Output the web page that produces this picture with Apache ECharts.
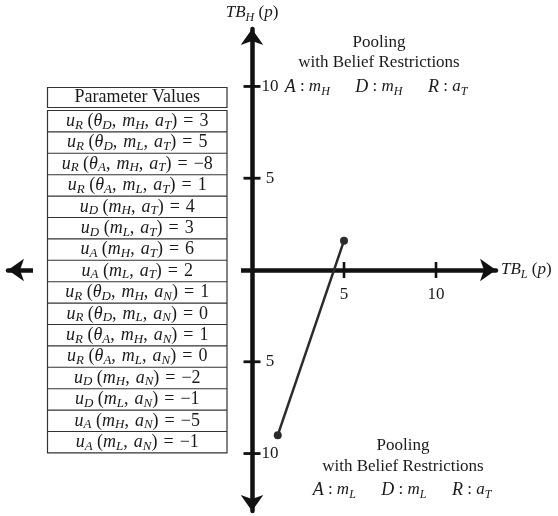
<!DOCTYPE html>
<html>
<head>
<meta charset="utf-8">
<script src="https://cdn.jsdelivr.net/npm/echarts@6/dist/echarts.min.js"></script>
<style>
  html, body { margin: 0; padding: 0; background: #fff; }
  #chart { width: 558px; height: 516px; }
</style>
</head>
<body>
<div id="chart"></div>
<script>
// Pooling segment in (TB_L, TB_H) space
const segmentTBL = [1.4, 5];
const segmentTBH = [-9, 1.6];

// Axis ticks and their labels
const xTickValues = [5, 10];
const xTickLabels = ['5', '10'];
const yTickValues = [10, 5, -5, -10];
const yTickLabels = ['10', '5', '5', '10'];

// Parameter table: u_player(θ_type, m_message, a_action) = value
const paramPlayers  = ['R', 'R', 'R', 'R', 'D', 'D', 'A', 'A', 'R', 'R', 'R', 'R', 'D', 'D', 'A', 'A'];
const paramTypes    = ['D', 'D', 'A', 'A', null, null, null, null, 'D', 'D', 'A', 'A', null, null, null, null];
const paramMessages = ['H', 'L', 'H', 'L', 'H', 'L', 'H', 'L', 'H', 'L', 'H', 'L', 'H', 'L', 'H', 'L'];
const paramActions  = ['T', 'T', 'T', 'T', 'T', 'T', 'T', 'T', 'N', 'N', 'N', 'N', 'N', 'N', 'N', 'N'];
const paramValues   = [3, 5, -8, 1, 4, 3, 6, 2, 1, 0, 1, 0, -2, -1, -5, -1];

// Region annotations: [A message, D message, R action]
const regionTitle = ['Pooling', 'with Belief Restrictions'];
const upperStrategy = ['H', 'H', 'T'];
const lowerStrategy = ['L', 'L', 'T'];

const FONT = '"Liberation Serif", "Times New Roman", serif';
const INK = '#1a1a1a';
const AXIS = '#111';

const rich = {
  r: { fontFamily: FONT, fontSize: 17, color: INK, lineHeight: 22 },
  i: { fontFamily: FONT, fontSize: 17, fontStyle: 'italic', color: INK, lineHeight: 22 },
  c: { fontFamily: FONT, fontSize: 18, fontStyle: 'italic', color: INK, lineHeight: 22 },
  s: { fontFamily: FONT, fontSize: 12, fontStyle: 'italic', color: INK, lineHeight: 14, verticalAlign: 'bottom' },
  // table cells
  R: { fontFamily: FONT, fontSize: 18, color: INK, lineHeight: 21 },
  I: { fontFamily: FONT, fontSize: 18, fontStyle: 'italic', color: INK, lineHeight: 21 },
  S: { fontFamily: FONT, fontSize: 13, fontStyle: 'italic', color: INK, lineHeight: 14, verticalAlign: 'bottom' }
};

function fmt(v) { return v < 0 ? '\u2212' + (-v) : String(v); }

function paramRow(k) {
  let s = '{I|u}{S|' + paramPlayers[k] + '}{R| (}';
  if (paramTypes[k]) s += '{I|\u03b8}{S|' + paramTypes[k] + '}{R|,\u2004}';
  s += '{I|m}{S|' + paramMessages[k] + '}{R|,\u2004}{I|a}{S|' + paramActions[k] + '}{R|)\u2004=\u2004' + fmt(paramValues[k]) + '}';
  return s;
}

function strategyLine(st) {
  const gap = '{r|\u2003\u2002}';
  return '{c|A}{r| : }{i|m}{s|' + st[0] + '}' + gap + '{c|D}{r| : }{i|m}{s|' + st[1] + '}' +
         gap + '{c|R}{r| : }{i|a}{s|' + st[2] + '}';
}

function textEl(text, x, y, z) {
  return {
    type: 'text', x: x, y: y, z: z || 30,
    style: { text: text, rich: rich, align: 'center', verticalAlign: 'middle',
             textAlign: 'center', textVerticalAlign: 'middle',
             font: '17px ' + FONT, fill: INK }
  };
}

// Table geometry
const tblX = 47.5, tblW = 179.5;
const headY = 87.5, headH = 20;
const bodyY = 110.5, rowH = 21.4;

const graphics = [];
// White backing that interrupts the horizontal axis around the table
graphics.push({ type: 'rect', z: 10, shape: { x: 33, y: 258, width: 208, height: 24 }, style: { fill: '#fff' } });
graphics.push({ type: 'rect', z: 20, shape: { x: tblX, y: headY, width: tblW, height: headH },
  style: { fill: '#fff', stroke: '#333', lineWidth: 1.2 } });
graphics.push(textEl('{R|Parameter Values}', tblX + tblW / 2, headY + headH / 2));
graphics.push({ type: 'rect', z: 20, shape: { x: tblX, y: bodyY, width: tblW, height: rowH * paramValues.length },
  style: { fill: '#fff', stroke: '#333', lineWidth: 1.2 } });
for (let k = 0; k < paramValues.length; k++) {
  if (k > 0) {
    graphics.push({ type: 'line', z: 21, shape: { x1: tblX, y1: bodyY + k * rowH, x2: tblX + tblW, y2: bodyY + k * rowH },
      style: { stroke: '#333', lineWidth: 1.1 } });
  }
  graphics.push(textEl(paramRow(k), tblX + tblW / 2, bodyY + (k + 0.5) * rowH));
}
// Region annotations
graphics.push(textEl('{r|' + regionTitle[0] + '}', 379, 43));
graphics.push(textEl('{r|' + regionTitle[1] + '}', 379, 63));
graphics.push(textEl(strategyLine(upperStrategy), 376, 87));
graphics.push(textEl('{r|' + regionTitle[0] + '}', 403, 446));
graphics.push(textEl('{r|' + regionTitle[1] + '}', 403, 467));
graphics.push(textEl(strategyLine(lowerStrategy), 402, 490));

const chart = echarts.init(document.getElementById('chart'), null, { renderer: 'canvas' });

const axisCommon = {
  type: 'value',
  splitLine: { show: false },
  axisTick: { show: false },
  axisLabel: { show: false },
  axisLine: {
    show: true, onZero: true,
    symbol: ['arrow', 'arrow'], symbolSize: [17, 16],
    lineStyle: { color: AXIS, width: 4.5 }
  },
  nameMoveOverlap: false,
  nameTextStyle: { rich: rich }
};

chart.setOption({
  animation: false,
  backgroundColor: '#fff',
  grid: { left: 8, right: 62, top: 29, bottom: 5, containLabel: false, outerBoundsMode: 'none' },
  xAxis: Object.assign({}, axisCommon, {
    min: -13.26, max: 13.26,
    name: '{i|TB}{s|L}{r| (}{i|p}{r|)}', nameLocation: 'end', nameGap: 5
  }),
  yAxis: Object.assign({}, axisCommon, {
    min: -13.13, max: 13.13,
    name: '{i|TB}{s|H}{r| (}{i|p}{r|)}', nameLocation: 'end', nameGap: 5
  }),
  graphic: graphics,
  series: [
    {
      type: 'custom', coordinateSystem: 'cartesian2d', clip: false, z: 5,
      data: xTickValues.map(v => [v, 0]),
      renderItem: (params, api) => {
        const p = api.coord([api.value(0), api.value(1)]);
        return { type: 'group', children: [
          { type: 'line', shape: { x1: p[0], y1: p[1] - 8, x2: p[0], y2: p[1] + 8 }, style: { stroke: AXIS, lineWidth: 2.6 } },
          { type: 'text', x: p[0], y: p[1] + 25,
            style: { text: xTickLabels[params.dataIndex], align: 'center', verticalAlign: 'middle',
                     textAlign: 'center', textVerticalAlign: 'middle', font: '17px ' + FONT, fill: INK } }
        ] };
      }
    },
    {
      type: 'custom', coordinateSystem: 'cartesian2d', clip: false, z: 5,
      data: yTickValues.map(v => [0, v]),
      renderItem: (params, api) => {
        const p = api.coord([api.value(0), api.value(1)]);
        return { type: 'group', children: [
          { type: 'line', shape: { x1: p[0] - 8.5, y1: p[1], x2: p[0] + 8.5, y2: p[1] }, style: { stroke: AXIS, lineWidth: 2.8 } },
          { type: 'text', x: p[0] + 18, y: p[1],
            style: { text: yTickLabels[params.dataIndex], align: 'center', verticalAlign: 'middle',
                     textAlign: 'center', textVerticalAlign: 'middle', font: '17px ' + FONT, fill: INK } }
        ] };
      }
    },
    {
      type: 'line', z: 6,
      data: segmentTBL.map((x, k) => [x, segmentTBH[k]]),
      symbol: 'circle', symbolSize: 8,
      lineStyle: { color: '#2b2b2b', width: 2.5 },
      itemStyle: { color: '#2b2b2b' },
      emphasis: { disabled: true }
    }
  ]
});
</script>
</body>
</html>
